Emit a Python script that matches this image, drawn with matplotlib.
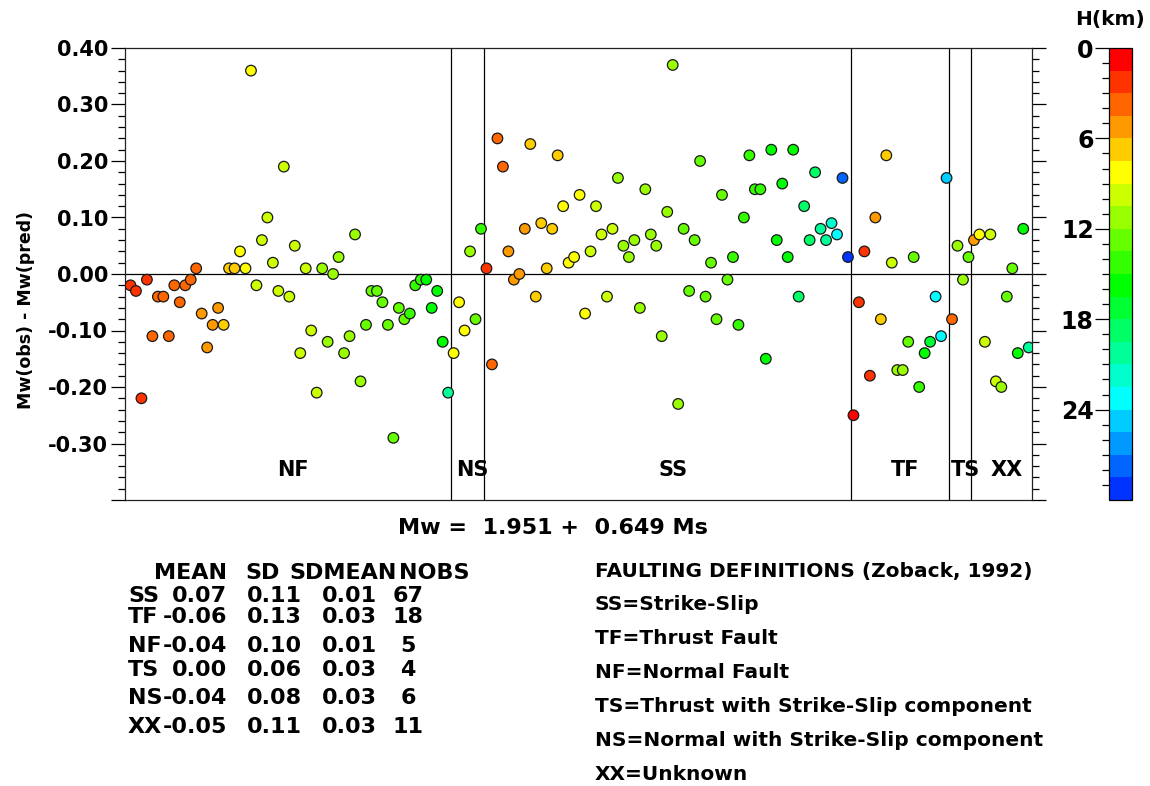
import numpy as np
import matplotlib
matplotlib.use("Agg")
import matplotlib.pyplot as plt
from matplotlib.colors import ListedColormap, BoundaryNorm, hsv_to_rgb
from matplotlib.cm import ScalarMappable
from matplotlib.ticker import MultipleLocator, FuncFormatter, FixedLocator

# ---------------- data ----------------
groups = ["NF", "NS", "SS", "TF", "TS", "XX"]

nf_resid = [-0.02, -0.03, -0.22, -0.01, -0.11, -0.04, -0.04, -0.11, -0.02, -0.05,
            -0.02, -0.01, 0.01, -0.07, -0.13, -0.09, -0.06, -0.09, 0.01, 0.01,
            0.04, 0.01, 0.36, -0.02, 0.06, 0.10, 0.02, -0.03, 0.19, -0.04,
            0.05, -0.14, 0.01, -0.10, -0.21, 0.01, -0.12, 0.00, 0.03, -0.14,
            -0.11, 0.07, -0.19, -0.09, -0.03, -0.03, -0.05, -0.09, -0.29, -0.06,
            -0.08, -0.07, -0.02, -0.01, -0.01, -0.06, -0.03, -0.12, -0.21]
nf_depth = [2, 2, 2, 2, 4, 4, 4, 4, 4, 4,
            4, 4, 4, 5, 5, 5, 5, 7, 7, 7,
            8, 8, 8, 10, 10, 10, 10, 10, 10, 10,
            10, 10, 10, 10, 10, 11, 11, 11, 11, 11,
            11, 11, 11, 13, 13, 13, 13, 13, 13, 13,
            13, 14, 14, 14, 16, 16, 16, 16, 20]

ns_resid = [-0.14, -0.05, -0.10, 0.04, -0.08, 0.08]
ns_depth = [8, 8, 8, 11, 13, 14]

ss_resid = [0.01, -0.16, 0.24, 0.19, 0.04, -0.01, 0.00, 0.08, 0.23, -0.04,
            0.09, 0.01, 0.08, 0.21, 0.12, 0.02, 0.03, 0.14, -0.07, 0.04,
            0.12, 0.07, -0.04, 0.08, 0.17, 0.05, 0.03, 0.06, -0.06, 0.15,
            0.07, 0.05, -0.11, 0.11, 0.37, -0.23, 0.08, -0.03, 0.06, 0.20,
            -0.04, 0.02, -0.08, 0.14, -0.01, 0.03, -0.09, 0.10, 0.21, 0.15,
            0.15, -0.15, 0.22, 0.06, 0.16, 0.03, 0.22, -0.04, 0.12, 0.06,
            0.18, 0.08, 0.06, 0.09, 0.07, 0.17, 0.03]
ss_depth = [2, 4, 4, 4, 5, 5, 5, 5, 7, 7,
            7, 7, 7, 7, 8, 8, 8, 8, 8, 10,
            10, 10, 10, 10, 11, 11, 11, 11, 11, 11,
            11, 11, 11, 11, 11, 11, 13, 13, 13, 13,
            13, 13, 13, 13, 13, 14, 14, 14, 14, 14,
            14, 16, 16, 16, 16, 16, 16, 19, 19, 19,
            19, 20, 20, 22, 23, 28, 29]

tf_resid = [-0.25, -0.05, 0.04, -0.18, 0.10, -0.08, 0.21, 0.02, -0.17, -0.17,
            -0.12, 0.03, -0.20, -0.14, -0.12, -0.04, -0.11, 0.17]
tf_depth = [1, 2, 2, 2, 5, 7, 7, 10, 11, 11, 13, 13, 14, 16, 17, 23, 23, 25]

ts_resid = [-0.08, 0.05, -0.01, 0.03]
ts_depth = [4, 11, 11, 13]

xx_resid = [0.06, 0.07, -0.12, 0.07, -0.19, -0.20, -0.04, 0.01, -0.14, 0.08, -0.13]
xx_depth = [5, 8, 10, 10, 10, 11, 13, 13, 16, 16, 20]

# summary table
table_rows = ["SS", "TF", "NF", "TS", "NS", "XX"]
table_mean = ["0.07", "-0.06", "-0.04", "0.00", "-0.04", "-0.05"]
table_sd = ["0.11", "0.13", "0.10", "0.06", "0.08", "0.11"]
table_sdmean = ["0.01", "0.03", "0.01", "0.03", "0.03", "0.03"]
table_nobs = ["67", "18", "5", "4", "6", "11"]
table_header = ["MEAN", "SD", "SDMEAN", "NOBS"]

definitions = ["FAULTING DEFINITIONS (Zoback, 1992)",
               "SS=Strike-Slip",
               "TF=Thrust Fault",
               "NF=Normal Fault",
               "TS=Thrust with Strike-Slip component",
               "NS=Normal with Strike-Slip component",
               "XX=Unknown"]

formula = "Mw =  1.951 +  0.649 Ms"
cbar_ticks = [0, 6, 12, 18, 24]

# ---------------- assemble ----------------
all_resid = [nf_resid, ns_resid, ss_resid, tf_resid, ts_resid, xx_resid]
all_depth = [nf_depth, ns_depth, ss_depth, tf_depth, ts_depth, xx_depth]
resid = np.concatenate(all_resid)
depth = np.concatenate(all_depth)
x = np.arange(1, len(resid) + 1)
counts = [len(r) for r in all_resid]
bounds = np.cumsum(counts) + 0.5

# ---------------- style ----------------
plt.rcParams["font.family"] = ["DejaVu Sans"]
plt.rcParams["font.weight"] = "bold"

W, H = 1150, 786
fig = plt.figure(figsize=(W / 100, H / 100), dpi=100)

def fx(px):
    return px / W

def fy(py):
    return 1 - py / H

ax = fig.add_axes([fx(125), fy(500), (1032 - 125) / W, (500 - 48) / H])

hues = np.arange(20) * 12 / 360.0
cols = hsv_to_rgb(np.stack([hues, np.ones(20), np.ones(20)], axis=1))
cmap = ListedColormap(cols)
norm = BoundaryNorm(np.linspace(0, 30, 21), 20)

ax.axhline(0, color="black", lw=0.9, zorder=1)
for b in bounds[:-1]:
    ax.axvline(b, color="black", lw=0.9, zorder=1)

ax.scatter(x, resid, c=depth, cmap=cmap, norm=norm, s=58,
           edgecolors="#1a1a1a", linewidths=0.9, zorder=3)

ax.set_xlim(0, 165.6)
ax.set_ylim(-0.4, 0.4)
ax.set_xticks([])
ax.yaxis.set_major_locator(MultipleLocator(0.1))
ax.yaxis.set_minor_locator(MultipleLocator(0.02))
ax.yaxis.set_major_formatter(FuncFormatter(
    lambda v, p: "" if v < -0.35 else ("%.2f" % v).replace("-0.00", "0.00")))
ax.tick_params(axis="y", which="both", direction="out", left=True, right=True,
               labelleft=True, labelright=False, labelsize=15, pad=2, width=0.9)
ax.tick_params(axis="y", which="major", length=10)
ax.tick_params(axis="y", which="minor", length=5)
for sp in ax.spines.values():
    sp.set_linewidth(0.9)
    sp.set_color("#222222")

# group labels
starts = np.concatenate([[0], bounds[:-1]])
for g, s0, s1 in zip(groups, starts, bounds):
    ax.text((s0 + s1) / 2 + 1.0, -0.347, g, ha="center", va="center",
            fontsize=15, fontweight="bold")

fig.text(fx(26), fy(310), "Mw(obs) - Mw(pred)", rotation=90, ha="center",
         va="center", fontsize=12.5, fontweight="bold")

# colorbar
cax = fig.add_axes([fx(1109), fy(500), 23 / W, 452 / H])
sm = ScalarMappable(norm=norm, cmap=cmap)
cb = fig.colorbar(sm, cax=cax, orientation="vertical", spacing="proportional",
                  ticks=cbar_ticks)
cax.set_ylim(30, 0)
cax.yaxis.set_ticks_position("left")
cax.yaxis.set_label_position("left")
cax.yaxis.set_minor_locator(FixedLocator([v for v in range(1, 30) if v % 6 != 0]))
cax.tick_params(which="both", direction="out", width=0.9)
cax.tick_params(which="major", length=10, labelsize=17, pad=1)
cax.tick_params(which="minor", length=5)
cb.outline.set_linewidth(0.9)
fig.text(fx(1110), fy(20), "H(km)", ha="center", va="center",
         fontsize=14.5, fontweight="bold")

# formula
fig.text(fx(553), fy(528), formula, ha="center", va="center",
         fontsize=16, fontweight="bold")

# table
tfs = 16
hdr_y = 573
hdr_x = [190, 263, 343, 434]
for h, hx in zip(table_header, hdr_x):
    fig.text(fx(hx), fy(hdr_y), h, ha="center", va="center", fontsize=tfs)
row_y = [596, 617, 646, 670, 698, 727]
for name, m, sd, sdm, n, ry in zip(table_rows, table_mean, table_sd,
                                   table_sdmean, table_nobs, row_y):
    fig.text(fx(128), fy(ry), name, ha="left", va="center", fontsize=tfs)
    fig.text(fx(227), fy(ry), m, ha="right", va="center", fontsize=tfs)
    fig.text(fx(302), fy(ry), sd, ha="right", va="center", fontsize=tfs)
    fig.text(fx(377), fy(ry), sdm, ha="right", va="center", fontsize=tfs)
    fig.text(fx(408), fy(ry), n, ha="center", va="center", fontsize=tfs)

# definitions
def_y = [572, 605, 638, 672, 706, 740, 774]
for t, dy in zip(definitions, def_y):
    fig.text(fx(595), fy(dy), t, ha="left", va="center", fontsize=14.5)

fig.savefig("out.png", dpi=100)
